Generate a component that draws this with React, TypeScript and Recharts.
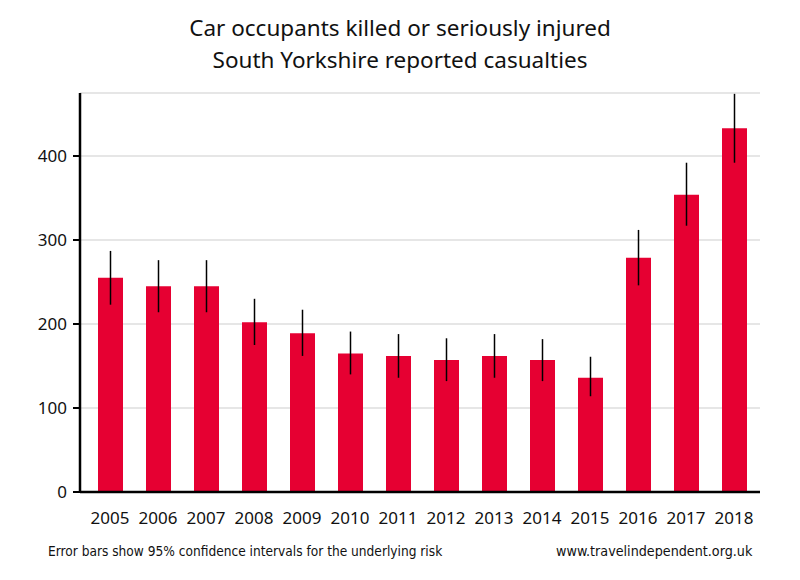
import { BarChart, Bar, XAxis, YAxis, CartesianGrid, ErrorBar } from "recharts";

const years = ["2005", "2006", "2007", "2008", "2009", "2010", "2011", "2012", "2013", "2014", "2015", "2016", "2017", "2018"];
const casualties = [255, 245, 245, 202, 189, 165, 162, 157, 162, 157, 136, 279, 354, 433];
const ciLow = [223, 214, 214, 175, 162, 140, 136, 132, 136, 132, 114, 246, 317, 392];
const ciHigh = [287, 276, 276, 230, 217, 191, 188, 183, 188, 182, 161, 312, 392, 474];
const yTicks = [0, 100, 200, 300, 400];

const chartData = years.map((year, i) => ({
  year,
  value: casualties[i],
  // deltas below / above the bar for the 95% interval
  ci: [casualties[i] - ciLow[i], ciHigh[i] - casualties[i]],
}));

const font = "'Noto Sans', 'Open Sans', sans-serif";
const footFont = "'DejaVu Sans Condensed', 'Liberation Sans Narrow', sans-serif";

export default function App() {
  return (
    <div style={{ position: "absolute", left: 0, top: 0, width: 800, height: 580, background: "#fff", fontFamily: font }}>
      <div style={{ position: "absolute", top: 12, left: 0, width: 800, textAlign: "center", fontSize: 22.5, lineHeight: "32px", color: "#111" }}>
        Car occupants killed or seriously injured
        <br />
        South Yorkshire reported casualties
      </div>
      <BarChart
        width={800}
        height={580}
        data={chartData}
        margin={{ top: 93, right: 40, bottom: 57, left: 0 }}
      >
        <CartesianGrid vertical={false} stroke="#e6e6e6" strokeWidth={2} />
        <XAxis
          dataKey="year"
          height={31}
          padding={{ left: 6, right: 2 }}
          tickLine={false}
          axisLine={{ stroke: "#000", strokeWidth: 2.5 }}
          tick={{ fill: "#111", fontSize: 17, fontFamily: font }}
          tickMargin={14}
          interval={0}
        />
        <YAxis
          width={80}
          domain={[0, 475]}
          ticks={yTicks}
          axisLine={{ stroke: "#000", strokeWidth: 2.5 }}
          tickLine={{ stroke: "#000", strokeWidth: 2 }}
          tickSize={7}
          tickMargin={6}
          tick={{ fill: "#111", fontSize: 17, fontFamily: font }}
        />
        <Bar dataKey="value" fill="#e60032" barSize={25} isAnimationActive={false}>
          <ErrorBar dataKey="ci" width={0} stroke="#000" strokeWidth={1.5} direction="y" />
        </Bar>
      </BarChart>
      <div style={{ position: "absolute", top: 543, left: 48, fontSize: 13.6, color: "#111", fontFamily: footFont }}>
        Error bars show 95% confidence intervals for the underlying risk
      </div>
      <div style={{ position: "absolute", top: 543, left: 556, fontSize: 14.2, color: "#111", fontFamily: footFont }}>
        www.travelindependent.org.uk
      </div>
    </div>
  );
}
